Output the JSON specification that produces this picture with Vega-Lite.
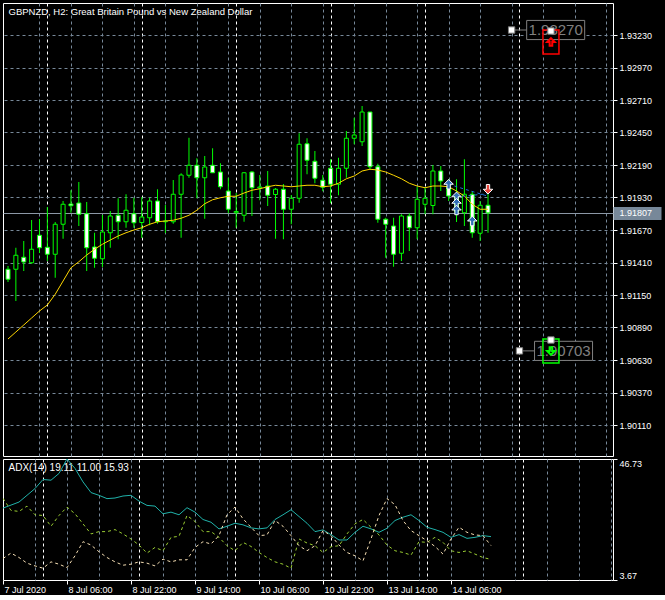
{
  "$schema": "https://vega.github.io/schema/vega-lite/v6.json",
  "background": "#000000",
  "padding": {"left": 2, "top": 2, "right": 0, "bottom": 0},
  "autosize": {"type": "pad"},
  "spacing": 3,
  "bounds": "flush",
  "config": {
    "view": {"stroke": "#FFFFFF", "strokeWidth": 1},
    "axis": {"labelColor": "#FFFFFF", "tickColor": "#FFFFFF", "labelFont": "Liberation Sans", "labelFontSize": 9, "domain": false,
      "titleColor": "#FFFFFF", "titleFont": "Liberation Sans", "titleFontSize": 9.5, "titleFontWeight": "normal"}
  },
  "datasets": {
    "bars": [
      {"i":0,"o":1.91356,"h":1.91382,"l":1.91254,"c":1.91276,"ma":1.90798,"adx":29.25,"pdi":32.73,"mdi":11.31},
      {"i":1,"o":1.91356,"h":1.91528,"l":1.91102,"c":1.91468,"ma":1.90854,"adx":30.33,"pdi":28.43,"mdi":13.25},
      {"i":2,"o":1.91452,"h":1.91582,"l":1.91342,"c":1.91414,"ma":1.90910,"adx":31.41,"pdi":28.07,"mdi":11.67},
      {"i":3,"o":1.91408,"h":1.91750,"l":1.91400,"c":1.91516,"ma":1.90966,"adx":33.81,"pdi":29.97,"mdi":9.66},
      {"i":4,"o":1.91628,"h":1.91758,"l":1.91486,"c":1.91528,"ma":1.91022,"adx":36.21,"pdi":26.88,"mdi":8.69},
      {"i":5,"o":1.91532,"h":1.91854,"l":1.91422,"c":1.91476,"ma":1.91070,"adx":39.44,"pdi":26.63,"mdi":7.87},
      {"i":6,"o":1.91476,"h":1.91734,"l":1.91288,"c":1.91716,"ma":1.91156,"adx":39.19,"pdi":22.79,"mdi":10.13},
      {"i":7,"o":1.91716,"h":1.91902,"l":1.91600,"c":1.91876,"ma":1.91262,"adx":41.60,"pdi":26.63,"mdi":9.30},
      {"i":8,"o":1.91878,"h":1.91988,"l":1.91808,"c":1.91864,"ma":1.91368,"adx":46.73,"pdi":29.61,"mdi":8.08},
      {"i":9,"o":1.91886,"h":1.92054,"l":1.91702,"c":1.91796,"ma":1.91416,"adx":43.39,"pdi":27.24,"mdi":12.28},
      {"i":10,"o":1.91800,"h":1.91894,"l":1.91342,"c":1.91528,"ma":1.91470,"adx":38.58,"pdi":23.66,"mdi":17.30},
      {"i":11,"o":1.91534,"h":1.91648,"l":1.91368,"c":1.91444,"ma":1.91516,"adx":34.78,"pdi":20.07,"mdi":16.12},
      {"i":12,"o":1.91440,"h":1.91790,"l":1.91374,"c":1.91654,"ma":1.91556,"adx":33.81,"pdi":20.89,"mdi":13.72},
      {"i":13,"o":1.91648,"h":1.91822,"l":1.91528,"c":1.91782,"ma":1.91590,"adx":32.63,"pdi":20.89,"mdi":11.67},
      {"i":14,"o":1.91788,"h":1.91924,"l":1.91596,"c":1.91736,"ma":1.91622,"adx":32.84,"pdi":21.61,"mdi":10.13},
      {"i":15,"o":1.91736,"h":1.91956,"l":1.91688,"c":1.91828,"ma":1.91648,"adx":33.56,"pdi":20.07,"mdi":8.94},
      {"i":16,"o":1.91800,"h":1.91928,"l":1.91688,"c":1.91728,"ma":1.91670,"adx":33.81,"pdi":18.27,"mdi":9.30},
      {"i":17,"o":1.91730,"h":1.91934,"l":1.91606,"c":1.91774,"ma":1.91688,"adx":31.76,"pdi":16.12,"mdi":10.13},
      {"i":18,"o":1.91768,"h":1.91928,"l":1.91708,"c":1.91902,"ma":1.91716,"adx":30.22,"pdi":13.25,"mdi":9.66},
      {"i":19,"o":1.91902,"h":1.91996,"l":1.91720,"c":1.91736,"ma":1.91736,"adx":29.97,"pdi":15.26,"mdi":8.69},
      {"i":20,"o":1.91736,"h":1.91870,"l":1.91646,"c":1.91742,"ma":1.91742,"adx":27.24,"pdi":14.08,"mdi":11.10},
      {"i":21,"o":1.91736,"h":1.92070,"l":1.91720,"c":1.91956,"ma":1.91748,"adx":27.82,"pdi":18.85,"mdi":10.13},
      {"i":22,"o":1.91956,"h":1.92124,"l":1.91608,"c":1.92110,"ma":1.91764,"adx":26.88,"pdi":19.21,"mdi":10.85},
      {"i":23,"o":1.92108,"h":1.92408,"l":1.92088,"c":1.92188,"ma":1.91788,"adx":29.40,"pdi":26.63,"mdi":10.85},
      {"i":24,"o":1.92188,"h":1.92244,"l":1.91924,"c":1.92088,"ma":1.91828,"adx":27.82,"pdi":24.48,"mdi":15.26},
      {"i":25,"o":1.92088,"h":1.92262,"l":1.91760,"c":1.92174,"ma":1.91880,"adx":25.20,"pdi":20.89,"mdi":17.30},
      {"i":26,"o":1.92188,"h":1.92324,"l":1.92128,"c":1.92128,"ma":1.91912,"adx":24.23,"pdi":20.89,"mdi":16.48},
      {"i":27,"o":1.92134,"h":1.92204,"l":1.91996,"c":1.92016,"ma":1.91928,"adx":21.86,"pdi":18.85,"mdi":19.46},
      {"i":28,"o":1.91982,"h":1.92088,"l":1.91804,"c":1.91836,"ma":1.91940,"adx":22.79,"pdi":15.87,"mdi":26.88},
      {"i":29,"o":1.91808,"h":1.91966,"l":1.91688,"c":1.91818,"ma":1.91940,"adx":23.87,"pdi":14.08,"mdi":29.61},
      {"i":30,"o":1.91788,"h":1.92134,"l":1.91736,"c":1.92128,"ma":1.91966,"adx":23.30,"pdi":17.05,"mdi":25.45},
      {"i":31,"o":1.92134,"h":1.92142,"l":1.91782,"c":1.92008,"ma":1.91988,"adx":22.22,"pdi":15.62,"mdi":22.44},
      {"i":32,"o":1.92006,"h":1.92110,"l":1.91908,"c":1.92014,"ma":1.92000,"adx":21.86,"pdi":13.47,"mdi":19.46},
      {"i":33,"o":1.92022,"h":1.92142,"l":1.91862,"c":1.91948,"ma":1.92016,"adx":22.22,"pdi":11.67,"mdi":19.71},
      {"i":34,"o":1.91954,"h":1.92006,"l":1.91600,"c":1.91996,"ma":1.92028,"adx":25.20,"pdi":10.13,"mdi":24.84},
      {"i":35,"o":1.91996,"h":1.92038,"l":1.91596,"c":1.91836,"ma":1.92022,"adx":26.88,"pdi":9.30,"mdi":22.79},
      {"i":36,"o":1.91836,"h":1.91950,"l":1.91716,"c":1.91924,"ma":1.92016,"adx":28.68,"pdi":7.87,"mdi":19.46},
      {"i":37,"o":1.91924,"h":1.92444,"l":1.91888,"c":1.92356,"ma":1.92022,"adx":26.27,"pdi":18.27,"mdi":15.87},
      {"i":38,"o":1.92360,"h":1.92404,"l":1.92116,"c":1.92228,"ma":1.92028,"adx":23.87,"pdi":16.84,"mdi":14.08},
      {"i":39,"o":1.92220,"h":1.92302,"l":1.92044,"c":1.92084,"ma":1.92028,"adx":20.89,"pdi":15.87,"mdi":15.87},
      {"i":40,"o":1.92068,"h":1.92110,"l":1.91980,"c":1.92012,"ma":1.92016,"adx":21.50,"pdi":13.47,"mdi":21.25},
      {"i":41,"o":1.92164,"h":1.92236,"l":1.91884,"c":1.92036,"ma":1.92022,"adx":19.82,"pdi":15.51,"mdi":19.46},
      {"i":42,"o":1.92036,"h":1.92248,"l":1.91948,"c":1.92164,"ma":1.92044,"adx":17.91,"pdi":15.87,"mdi":16.12},
      {"i":43,"o":1.92164,"h":1.92462,"l":1.92088,"c":1.92404,"ma":1.92080,"adx":17.91,"pdi":20.07,"mdi":13.47},
      {"i":44,"o":1.92404,"h":1.92568,"l":1.92356,"c":1.92430,"ma":1.92102,"adx":20.64,"pdi":23.66,"mdi":12.28},
      {"i":45,"o":1.92376,"h":1.92662,"l":1.92342,"c":1.92614,"ma":1.92142,"adx":22.79,"pdi":25.20,"mdi":10.49},
      {"i":46,"o":1.92614,"h":1.92614,"l":1.92150,"c":1.92176,"ma":1.92156,"adx":21.86,"pdi":22.44,"mdi":18.27},
      {"i":47,"o":1.92176,"h":1.92200,"l":1.91728,"c":1.91756,"ma":1.92150,"adx":20.64,"pdi":19.71,"mdi":26.63},
      {"i":48,"o":1.91756,"h":1.91768,"l":1.91448,"c":1.91716,"ma":1.92134,"adx":22.08,"pdi":16.12,"mdi":32.63},
      {"i":49,"o":1.91702,"h":1.91768,"l":1.91376,"c":1.91476,"ma":1.92108,"adx":24.84,"pdi":14.08,"mdi":30.47},
      {"i":50,"o":1.91484,"h":1.91796,"l":1.91422,"c":1.91782,"ma":1.92080,"adx":26.02,"pdi":13.47,"mdi":24.84},
      {"i":51,"o":1.91782,"h":1.91804,"l":1.91502,"c":1.91688,"ma":1.92044,"adx":26.88,"pdi":12.53,"mdi":21.25},
      {"i":52,"o":1.91688,"h":1.92016,"l":1.91596,"c":1.91916,"ma":1.92022,"adx":24.84,"pdi":17.30,"mdi":19.46},
      {"i":53,"o":1.91876,"h":1.92014,"l":1.91796,"c":1.91924,"ma":1.92008,"adx":22.44,"pdi":17.05,"mdi":17.66},
      {"i":54,"o":1.91866,"h":1.92190,"l":1.91796,"c":1.92142,"ma":1.92022,"adx":21.61,"pdi":18.85,"mdi":15.62},
      {"i":55,"o":1.92142,"h":1.92182,"l":1.91982,"c":1.92062,"ma":1.92022,"adx":20.64,"pdi":17.05,"mdi":12.89},
      {"i":56,"o":1.92010,"h":1.92078,"l":1.91902,"c":1.91942,"ma":1.92016,"adx":18.85,"pdi":14.08,"mdi":18.27},
      {"i":57,"o":1.91942,"h":1.92076,"l":1.91734,"c":1.91814,"ma":1.91982,"adx":19.82,"pdi":13.47,"mdi":22.44},
      {"i":58,"o":1.91808,"h":1.92236,"l":1.91702,"c":1.91956,"ma":1.91942,"adx":18.49,"pdi":14.08,"mdi":20.64},
      {"i":59,"o":1.91956,"h":1.91982,"l":1.91608,"c":1.91648,"ma":1.91876,"adx":18.85,"pdi":12.89,"mdi":19.71},
      {"i":60,"o":1.91644,"h":1.91902,"l":1.91582,"c":1.91868,"ma":1.91836,"adx":19.46,"pdi":11.67,"mdi":19.46},
      {"i":61,"o":1.91868,"h":1.91966,"l":1.91648,"c":1.91807,"ma":1.91836,"adx":19.11,"pdi":11.00,"mdi":15.93}
    ],
    "arrows": [
      {"i":56,"p":1.92036,"type":"buy"},
      {"i":57,"p":1.91936,"type":"buy"},
      {"i":57,"p":1.91884,"type":"buy"},
      {"i":57,"p":1.91830,"type":"buy"},
      {"i":59,"p":1.91742,"type":"buy"},
      {"i":61,"p":1.91996,"type":"sell"}
    ],
    "trades": [
      {"i0":56,"p0":1.92036,"i1":61,"p1":1.91940},
      {"i0":57,"p0":1.91936,"i1":61,"p1":1.91960}
    ],
    "labels": [
      {"a":64,"i":69.6,"p":1.93270,"text":"1.93270"},
      {"a":65,"i":70.6,"p":1.90703,"text":"1.90703"}
    ],
    "boxes": [
      {"i":69,"p":1.93174,"kind":"stop"},
      {"i":69,"p":1.90702,"kind":"take"}
    ],
    "squares": [
      {"i":64,"p":1.93270},
      {"i":69,"p":1.93262},
      {"i":65,"p":1.90703},
      {"i":69,"p":1.90790}
    ]
  },
  "vconcat": [
    {
      "width": 610,
      "height": 453,
      "encoding": {
        "x": {"field": "i", "type": "quantitative", "scale": {"domain": [0, 76.25], "nice": false, "zero": false},
          "axis": {"orient": "top", "tickCount": 60, "values": [0,4,5,8,12,16,17,20,24,28,29,32,36,40,41,44,48,52,53,56,60,64,65,68,72,76],
            "labels": false, "ticks": false, "domain": false, "grid": true, "gridDash": [3,3],
            "title": "GBPNZD, H2:  Great Britain Pound vs New Zealand Dollar", "titleAnchor": "start", "titleAlign": "left", "titleBaseline": "top", "titleX": 5, "titleY": 3, "titlePadding": 0,
            "gridColor": {"condition": [{"test": "datum.value === 0", "value": "transparent"}, {"test": "indexof([5,17,29,41,53,65], datum.value) >= 0", "value": "#FFFFFF"}], "value": "#778899"}}}
      },
      "layer": [
        {
          "data": {"name": "bars"},
          "mark": {"type": "rule", "color": "#00FF00", "strokeWidth": 1, "clip": true},
          "encoding": {
            "y": {"field": "l", "type": "quantitative", "scale": {"domain": [1.89862, 1.93486], "nice": false, "zero": false},
              "axis": {"orient": "right", "tickCount": 60, "values": [1.9011,1.9037,1.9063,1.9089,1.9115,1.9141,1.9167,1.9193,1.9219,1.9245,1.9271,1.9297,1.9323,1.91807],
                "format": ".5f", "grid": true, "labelOverlap": false, "labelBound": false, "title": null,
                "gridColor": {"condition": {"test": "abs(datum.value - 1.91807) < 0.000001", "value": "#8C98A6"}, "value": "#778899"},
                "gridDash": {"condition": {"test": "abs(datum.value - 1.91807) < 0.000001", "value": []}, "value": [3,3]},
                "tickSize": {"condition": {"test": "abs(datum.value - 1.91807) < 0.000001", "value": 48}, "value": 4},
                "tickWidth": {"condition": {"test": "abs(datum.value - 1.91807) < 0.000001", "value": 13}, "value": 1},
                "tickColor": {"condition": {"test": "abs(datum.value - 1.91807) < 0.000001", "value": "#778899"}, "value": "#FFFFFF"},
                "labelPadding": {"condition": {"test": "abs(datum.value - 1.91807) < 0.000001", "value": -42}, "value": 2},
                "labelColor": "#FFFFFF"}},
            "y2": {"field": "h"}
          }
        },
        {
          "data": {"name": "bars"},
          "mark": {"type": "bar", "width": 4, "stroke": "#00FF00", "strokeWidth": 1, "clip": true},
          "encoding": {
            "y": {"field": "o", "type": "quantitative"},
            "y2": {"field": "c"},
            "fill": {"condition": {"test": "datum.c < datum.o", "value": "#FFFFFF"}, "value": "#000000"}
          }
        },
        {
          "data": {"name": "bars"},
          "mark": {"type": "line", "color": "#FFD700", "strokeWidth": 1, "clip": true},
          "encoding": {"y": {"field": "ma", "type": "quantitative"}}
        },
        {
          "data": {"name": "trades"},
          "mark": {"type": "rule", "color": "#1E70D0", "strokeWidth": 1, "strokeDash": [3, 3], "clip": true},
          "encoding": {"x": {"field": "i0"}, "x2": {"field": "i1"}, "y": {"field": "p0", "type": "quantitative"}, "y2": {"field": "p1"}}
        },
        {
          "data": {"name": "arrows"},
          "mark": {"type": "point", "filled": true, "stroke": "#FFFFFF", "strokeWidth": 1, "size": 90, "opacity": 1, "clip": true},
          "encoding": {
            "y": {"field": "p", "type": "quantitative"},
            "shape": {"field": "type", "type": "nominal", "scale": {"domain": ["buy", "sell"], "range": ["M0,-1L1,0L0.35,0L0.35,1L-0.35,1L-0.35,0L-1,0Z", "M0,1L1,0L0.35,0L0.35,-1L-0.35,-1L-0.35,0L-1,0Z"]}, "legend": null},
            "fill": {"field": "type", "type": "nominal", "scale": {"domain": ["buy", "sell"], "range": ["#2F6DB5", "#E8463C"]}, "legend": null}
          }
        },
        {
          "data": {"name": "labels"},
          "mark": {"type": "rule", "color": "#808080", "strokeWidth": 1, "clip": true},
          "encoding": {"x": {"field": "a"}, "x2": {"field": "i"}, "y": {"field": "p", "type": "quantitative"}}
        },
        {
          "data": {"name": "labels"},
          "mark": {"type": "point", "shape": "M-1,-0.33L1,-0.33L1,0.33L-1,0.33Z", "size": 3364, "filled": true, "fill": "#000000", "stroke": "#808080", "strokeWidth": 1, "opacity": 1, "clip": true},
          "encoding": {"y": {"field": "p", "type": "quantitative"}}
        },
        {
          "data": {"name": "labels"},
          "mark": {"type": "text", "color": "#808080", "font": "Liberation Sans", "fontSize": 15, "align": "center", "baseline": "middle", "clip": true},
          "encoding": {"y": {"field": "p", "type": "quantitative"}, "text": {"field": "text"}}
        },
        {
          "data": {"name": "boxes"},
          "mark": {"type": "point", "shape": "M-0.667,-1L0.667,-1L0.667,1L-0.667,1Z", "size": 576, "filled": false, "strokeWidth": 1.5, "opacity": 1, "clip": true},
          "encoding": {
            "y": {"field": "p", "type": "quantitative"},
            "stroke": {"field": "kind", "type": "nominal", "scale": {"domain": ["stop", "take"], "range": ["#FF0000", "#00FF00"]}, "legend": null}
          }
        },
        {
          "data": {"name": "boxes"},
          "mark": {"type": "point", "filled": false, "strokeWidth": 2, "size": 56, "opacity": 1, "clip": true},
          "encoding": {
            "y": {"field": "p", "type": "quantitative"},
            "shape": {"field": "kind", "type": "nominal", "scale": {"domain": ["stop", "take"], "range": ["M-1,-1L1,1M1,-1L-1,1", "M-1,0L-0.35,0.75L1,-1"]}, "legend": null},
            "stroke": {"field": "kind", "type": "nominal", "scale": {"domain": ["stop", "take"], "range": ["#FF0000", "#00FF00"]}, "legend": null}
          }
        },
        {
          "data": {"name": "squares"},
          "mark": {"type": "point", "shape": "square", "size": 40, "filled": true, "fill": "#FFFFFF", "stroke": "#808080", "strokeWidth": 1, "opacity": 1, "clip": true},
          "encoding": {"y": {"field": "p", "type": "quantitative"}}
        }
      ]
    },
    {
      "width": 610,
      "height": 121,
      "data": {"name": "bars"},
      "encoding": {
        "x": {"field": "i", "type": "quantitative", "scale": {"domain": [0, 76.25], "nice": false, "zero": false},
          "axis": {"orient": "bottom", "tickCount": 60, "values": [0,4,5,8,12,16,17,20,24,28,29,32,36,40,41,44,48,52,53,56,60,64,65,68,72,76],
            "labelExpr": "datum.value % 8 === 0 && datum.value <= 56 ? ['7 Jul 2020','8 Jul 06:00','8 Jul 22:00','9 Jul 14:00','10 Jul 06:00','10 Jul 22:00','13 Jul 14:00','14 Jul 06:00'][datum.value / 8] : ''",
            "labelAlign": "left", "labelOffset": 1, "labelPadding": 1, "labelOverlap": false, "labelFlush": false, "labelBound": false,
            "tickSize": 4, "domain": false, "grid": true, "gridDash": [3,3], "title": null,
            "tickColor": {"condition": {"test": "datum.value % 8 === 0 && datum.value <= 56", "value": "#FFFFFF"}, "value": "transparent"},
            "gridColor": {"condition": [{"test": "datum.value === 0", "value": "transparent"}, {"test": "indexof([5,17,29,41,53,65], datum.value) >= 0", "value": "#FFFFFF"}], "value": "#778899"}}}
      },
      "layer": [
        {
          "mark": {"type": "line", "color": "#20B2AA", "strokeWidth": 1, "clip": true},
          "encoding": {"y": {"field": "adx", "type": "quantitative", "scale": {"domain": [3.67, 46.73], "nice": false, "zero": false},
            "axis": {"orient": "right", "tickCount": 10, "values": [3.67, 46.73], "format": ".2f", "tickSize": 4, "labelPadding": 2, "labelFlush": true, "grid": false,
              "title": "ADX(14) 19.11 11.00 15.93", "titleAngle": 0, "titleAnchor": "start", "titleAlign": "left", "titleBaseline": "top", "titleX": -605, "titleY": 3, "titlePadding": 0, "titleFontSize": 10}}}
        },
        {
          "mark": {"type": "line", "color": "#9ACD32", "strokeWidth": 1, "strokeDash": [3, 3], "clip": true},
          "encoding": {"y": {"field": "pdi", "type": "quantitative"}}
        },
        {
          "mark": {"type": "line", "color": "#F5DEB3", "strokeWidth": 1, "strokeDash": [3, 3], "clip": true},
          "encoding": {"y": {"field": "mdi", "type": "quantitative"}}
        }
      ]
    }
  ]
}
